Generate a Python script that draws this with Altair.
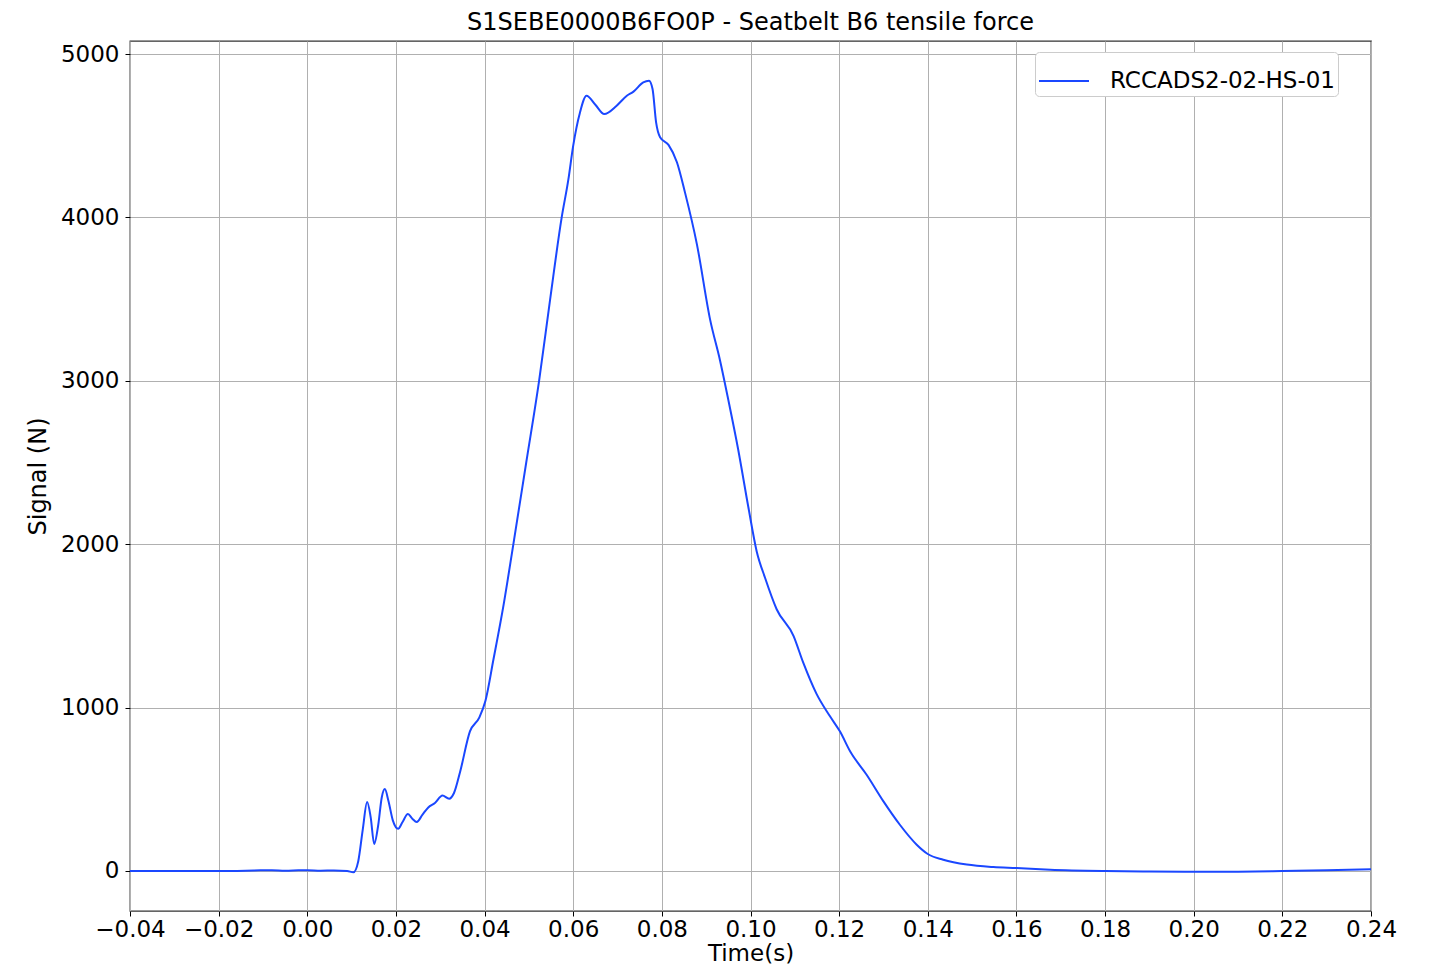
import altair as alt
import pandas as pd

# Time (s)
time_s = [
    -0.040, -0.030, -0.020, -0.012, -0.008, -0.005, -0.002, 0.000, 0.003, 0.006, 0.009, 0.0104,
    0.0115, 0.0125, 0.0135, 0.0143, 0.0151, 0.0160, 0.0168, 0.0175, 0.0183, 0.0193, 0.0205,
    0.0215, 0.0227, 0.0237, 0.0247, 0.0260, 0.0273, 0.0288, 0.0305, 0.0320, 0.0331, 0.0345,
    0.0367, 0.0388, 0.0402, 0.0420, 0.0443, 0.0465, 0.0494, 0.0523, 0.0548,
    0.0574, 0.0589, 0.0600, 0.0615, 0.0630, 0.0650, 0.0670, 0.0698, 0.0721, 0.0736, 0.0758,
    0.0771, 0.0779, 0.0787, 0.0796, 0.0815, 0.0834, 0.0852, 0.0879, 0.0909, 0.0931, 0.0950,
    0.0972, 0.0995, 0.1014, 0.1033, 0.1059, 0.1097, 0.1119, 0.1149, 0.1179, 0.1202, 0.1225,
    0.1262, 0.1300, 0.1337, 0.1375, 0.1400, 0.1435, 0.1488, 0.1548, 0.1600, 0.1676, 0.1800,
    0.1900, 0.2000, 0.2100, 0.2200, 0.2300, 0.2400,
]
# Signal (N)
signal_n = [
    0, 0, 0, 3, 5, 2, 4, 5, 2, 3, 0, -8,
    60, 250, 422, 330, 165, 280, 450, 501, 430, 310, 259,
    300, 348, 320, 300, 345, 389, 416, 462, 442, 477, 609,
    854, 939, 1042, 1294, 1630, 2001, 2500, 3000, 3500,
    4000, 4231, 4440, 4640, 4745, 4690, 4633, 4684, 4745, 4770, 4827,
    4837, 4786, 4582, 4491, 4444, 4338, 4155, 3837, 3373, 3128, 2883,
    2583, 2229, 1956, 1793, 1602, 1439, 1275, 1084, 948, 853, 731,
    589, 426, 283, 161, 104, 69, 39, 24, 18, 8, 0,
    -3, -5, -4, 0, 4, 10,
]
series_name = "RCCADS2-02-HS-01"
x_ticks = [-0.04, -0.02, 0.0, 0.02, 0.04, 0.06, 0.08, 0.10, 0.12, 0.14, 0.16, 0.18, 0.20, 0.22, 0.24]
y_ticks = [0, 1000, 2000, 3000, 4000, 5000]

df = pd.DataFrame({"t": time_s, "v": signal_n, "series": [series_name] * len(time_s)})

FONT = "DejaVu Sans"

line = alt.Chart(df).mark_line(strokeWidth=2, interpolate="monotone", clip=True).encode(
    x=alt.X(
        "t:Q",
        title="Time(s)",
        scale=alt.Scale(domain=[-0.04, 0.24], nice=False, zero=False),
        axis=alt.Axis(values=x_ticks, format=".2f", labelFontSize=23, titleFontSize=23,
                      labelFont=FONT, titleFont=FONT, titleFontWeight="normal",
                      labelColor="black", titleColor="black", tickSize=5, tickColor="black",
                      domain=False, labelPadding=2, titlePadding=1, gridColor="#b0b0b0",
                      gridWidth=1, labelFlush=False),
    ),
    y=alt.Y(
        "v:Q",
        title="Signal (N)",
        scale=alt.Scale(domain=[-245, 5080], nice=False, zero=False),
        axis=alt.Axis(values=y_ticks, format="d", labelFontSize=23, titleFontSize=24,
                      labelFont=FONT, titleFont=FONT, titleFontWeight="normal",
                      labelColor="black", titleColor="black", tickSize=5, tickColor="black",
                      domain=False, labelPadding=6, titlePadding=10, gridColor="#b0b0b0",
                      gridWidth=1),
    ),
    color=alt.Color(
        "series:N",
        scale=alt.Scale(range=["#1a47ff"]),
        legend=alt.Legend(
            title=None, orient="none", legendX=905, legendY=11,
            symbolType="stroke", symbolSize=2500, symbolStrokeWidth=2,
            labelFontSize=23, labelFont=FONT, labelColor="black", labelOffset=20,
            labelLimit=1000, padding=3, strokeColor="#cccccc", fillColor="white",
            cornerRadius=4,
        ),
    ),
)

chart = line.properties(
    width=1241,
    height=870,
    title=alt.TitleParams(
        "S1SEBE0000B6FO0P - Seatbelt B6 tensile force",
        fontSize=24, font=FONT, fontWeight="normal", color="black", offset=6,
    ),
    autosize=alt.AutoSizeParams(type="none"),
    padding={"left": 122, "top": 33, "right": 50, "bottom": 59},
).configure_view(stroke="#333333", strokeWidth=1.3)

chart.save("out.html", embed_options={"renderer": "svg", "actions": False})
